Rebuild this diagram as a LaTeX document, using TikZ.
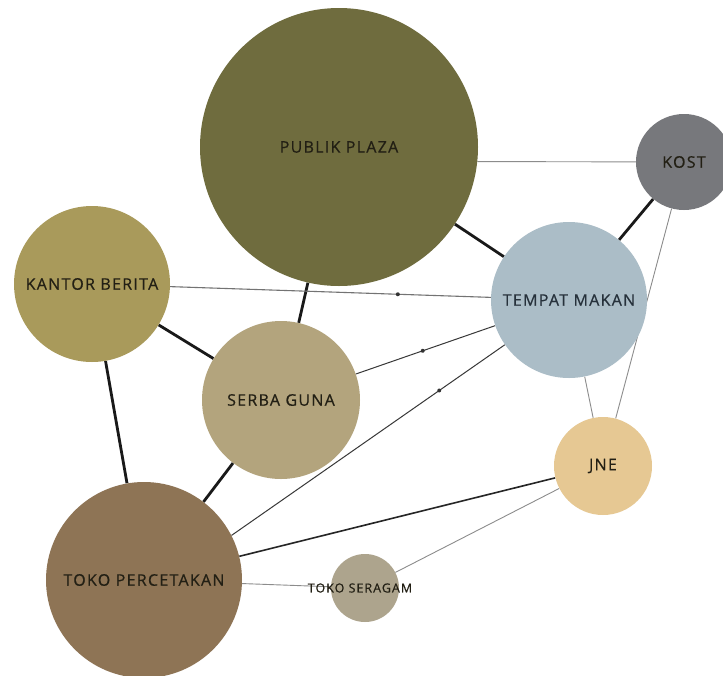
\documentclass[tikz,border=0pt]{standalone}
\usepackage{fontspec}
\setmainfont{Open Sans}
\newfontfamily\spotfont[LetterSpace=8,FakeBold=0.6]{Open Sans}
\usepackage{tikz}
\usetikzlibrary{positioning,backgrounds,decorations.markings}
\definecolor{ink}     {HTML}{221F14}
\definecolor{inkblue} {HTML}{26313B}
\definecolor{plaza}   {HTML}{6F6C3E}
\definecolor{kostgray}{HTML}{77787C}
\definecolor{berita}  {HTML}{A99A5B}
\definecolor{makan}   {HTML}{ABBDC7}
\definecolor{guna}    {HTML}{B3A47D}
\definecolor{jnesand} {HTML}{E6C893}
\definecolor{cetak}   {HTML}{8E7455}
\definecolor{seragam} {HTML}{ADA48D}
\definecolor{wire}    {HTML}{8C8C8C}
\tikzset{
  % --- nodes
  spot/.style  = {circle, inner sep=0pt, align=center, text=ink,
                  font=\spotfont\fontsize{16}{19}\selectfont},
  small/.style = {spot, font=\spotfont\fontsize{12.5}{15}\selectfont},
  % --- edges
  e/.style     = {line width=2.8pt, draw=black!90},
  ethin/.style = {line width=1pt, draw=black!78},
  emid/.style  = {line width=1.6pt, draw=black!85},
  egray/.style = {line width=0.9pt, draw=wire},
  ekb/.style   = {line width=1.1pt, draw=black!55},
  bead/.style  = {postaction={decorate}, decoration={markings,
                  mark=at position #1 with {\fill[black!80] circle (2pt);}}},
}
\begin{document}
\begin{tikzpicture}[x=1pt,y=-1pt]
  \useasboundingbox (0,0) rectangle (723,675);

  \node[spot, fill=plaza,    minimum size=278] (pp)   at (339,147) {PUBLIK PLAZA};
  \node[spot, fill=kostgray, minimum size=96]  (kost) at (684,162) {KOST};
  \node[spot, fill=berita,   minimum size=156] (kb)   at (92,284)  {KANTOR BERITA};
  \node[spot, fill=makan,    minimum size=156, text=inkblue] (tm) at (569,300) {TEMPAT MAKAN};
  \node[spot, fill=guna,     minimum size=158] (sg)   at (281,400) {SERBA GUNA};
  \node[spot, fill=jnesand,  minimum size=98]  (jne)  at (603,466) {JNE};
  \node[spot, fill=cetak,    minimum size=196] (tp)   at (144,580) {TOKO PERCETAKAN};
  % text wider than the circle, so keep the circle its own size
  \node[small, fill=seragam, minimum size=68]  (ts)   at (365,588) {\makebox[0pt]{\hspace*{-10pt}TOKO SERAGAM}};

  \begin{scope}[on background layer]
    \fill[white] (0,0) rectangle (723,675);
    \foreach \a/\b in {pp/tm,pp/sg,kb/sg,kb/tp,sg/tp,tm/kost} {
      \draw[e] (\a) -- (\b);
    }
    \draw[egray] (pp.-6) -- (kost);
    \draw[ekb, bead=0.71] (kb) -- (tm);
    \draw[ethin, bead=0.48] (sg) -- (tm);
    \draw[ethin, bead=0.76] (tp.27) -- (tm);
    \draw[emid] (tp) -- (jne);
    \foreach \a/\b in {tp/ts,ts/jne,tm/jne,kost/jne} {
      \draw[egray] (\a) -- (\b);
    }
  \end{scope}
\end{tikzpicture}
\end{document}
